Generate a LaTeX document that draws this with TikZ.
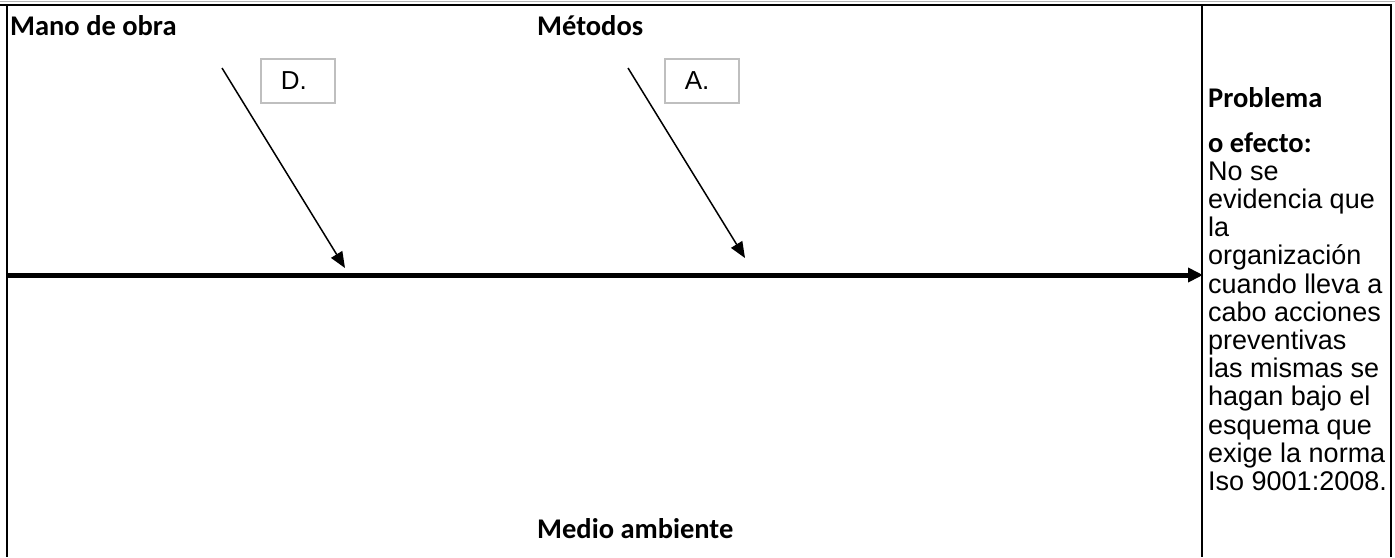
\documentclass[tikz,border=0pt]{standalone}
\usepackage{fontspec}
\setmainfont{Carlito}
\newfontfamily\arialf{Liberation Sans}
\usetikzlibrary{arrows.meta}
\usetikzlibrary{positioning}
\tikzset{
    causa/.style={
      font=\bfseries\fontsize{28.5}{32}\selectfont,
           inner sep=0pt,
           anchor=base west,
           },
}
\tikzset{
    caja/.style={
      rectangle,
           draw=black!25, line width=1.5pt,
           font=\arialf\fontsize{26}{30}\selectfont,
           inner xsep=20pt, inner ysep=0pt,
           text width=34pt, align=left,
           minimum height=44pt,
           anchor=north west,
           },
}
\tikzset{
    cuerpo/.style={
      font=\arialf\fontsize{27}{28}\selectfont,
           inner sep=0pt,
           text height=20pt, text depth=7.8pt,
           anchor=north west,
           },
}
\tikzset{
    borde/.style={
      draw=black, line width=2.5pt,
           },
}

\begin{document}
\begin{tikzpicture}[x=1pt,y=-1pt]
\useasboundingbox (0,0) rectangle (1395,557);

% marco
\draw[black!30,line width=1pt] (0,1) -- (1395,1);
\draw[borde] (0,5) -- (1392,5);
\draw[borde] (7,5) -- (7,557);
\draw[borde] (1202,5) -- (1202,557);
\draw[borde] (1391,5) -- (1391,557);

% categorias
\node[causa](mo) at (10,35){Mano de obra};
\node[causa](met) at (537,35){Métodos};
\node[causa](ma) at (537,538){Medio ambiente};

\node[caja](cd) at (260,58){D.};
\node[caja](ca) at (664,58){A.};

% efecto
\node[causa](pr) at (1208,107){Problema};
\node[causa](ef) at (1208,152){o efecto:};

\node[cuerpo](ns) at (1208,160){No se};
\node[cuerpo,below = 0pt of ns.south west,anchor=north west](ev){evidencia que};
\node[cuerpo,below = 0pt of ev.south west,anchor=north west](la){la};
\node[cuerpo,below = 0pt of la.south west,anchor=north west](org){organización};
\node[cuerpo,below = 0pt of org.south west,anchor=north west](cua){cuando lleva a};
\node[cuerpo,below = 0pt of cua.south west,anchor=north west](cab){cabo acciones};
\node[cuerpo,below = 0pt of cab.south west,anchor=north west](pre){preventivas};
\node[cuerpo,below = 0pt of pre.south west,anchor=north west](mis){las mismas se};
\node[cuerpo,below = 0pt of mis.south west,anchor=north west](hag){hagan bajo el};
\node[cuerpo,below = 0pt of hag.south west,anchor=north west](esq){esquema que};
\node[cuerpo,below = 0pt of esq.south west,anchor=north west](exi){exige la norma};
\node[cuerpo,below = 0pt of exi.south west,anchor=north west](iso){Iso 9001:2008.};

% espina
\coordinate (sp) at (8,275);
\coordinate (se) at (1203,275);
\coordinate (d0) at (222,68);
\coordinate (d1) at (345,268);
\coordinate (a0) at (628,68);
\coordinate (a1) at (745,258);

\path (sp) edge[-{Triangle[length=15pt,width=14pt]},line width=5pt](se);
\path (d0) edge[-{Triangle[length=16pt,width=13pt]},line width=1.5pt](d1);
\path (a0) edge[-{Triangle[length=16pt,width=13pt]},line width=1.5pt](a1);

\end{tikzpicture}
\end{document}
